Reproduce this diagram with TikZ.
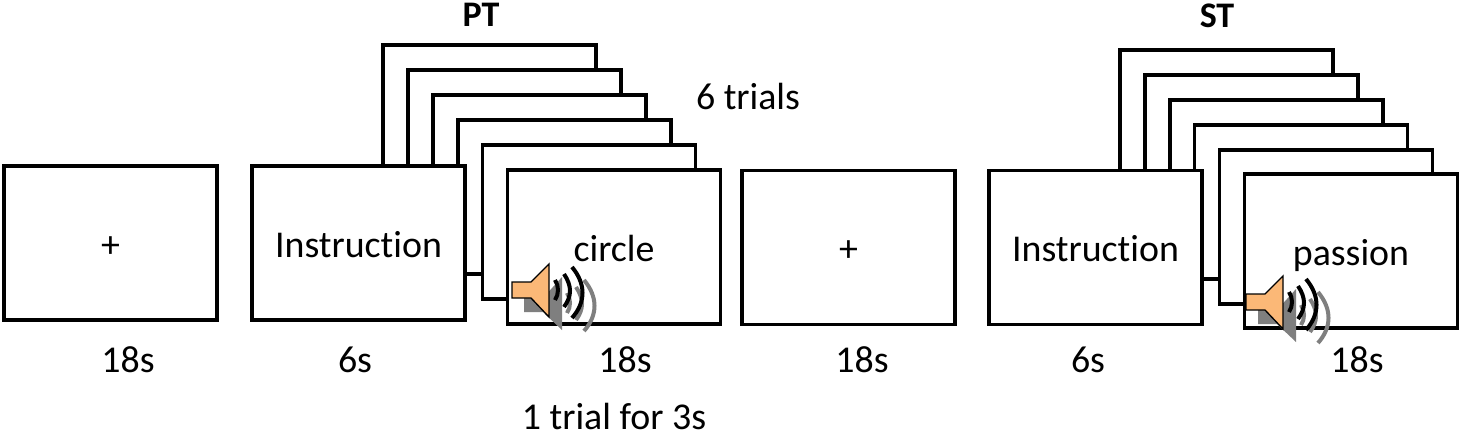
\documentclass[tikz,border=0pt]{standalone}
\usepackage{fontspec}
\setmainfont[Ligatures=NoCommon]{Carlito}
\usepackage{xcolor}
\definecolor{hornfill}{HTML}{FBB877}
\definecolor{hornshade}{HTML}{7F7F7F}
\tikzset{
    screen/.style={draw, fill=white, line width=2.8pt, minimum width=159.6pt, minimum height=115.5pt, inner sep=0pt, outer sep=0pt, text height=21pt, text depth=0pt, font=\fontsize{28.4}{34}\selectfont},
    lbl/.style={inner sep=0pt, font=\fontsize{28.4}{34}\selectfont},
    ttl/.style={inner sep=0pt, font=\fontsize{27}{32}\selectfont\bfseries},
    horn/.pic={
        % shadow first, then the horn and its waves
        \fill [hornshade] (12,16) -- (31,16) -- (50,-5) -- (50,48) -- (31,30) -- (12,30) -- cycle ;
        \foreach \c/\dx/\dy in {hornshade/12/13,black/0/0}{
            \begin{scope}[shift={(\dx,\dy)}]
                \draw [\c, line width=3pt] (43,-2) .. controls (47,4) and (47,12) .. (43,18) ;
                \draw [\c, line width=3pt] (52,-8) .. controls (60,4) and (60,14) .. (52,25) ;
                \draw [\c, line width=3pt] (60,-15) .. controls (74,2) and (74,20) .. (60,36) ;
            \end{scope}
        }
        \draw [fill=hornfill, line width=1pt] (0,0) -- (19,0) -- (37,-18) -- (37,35) -- (19,16) -- (0,16) -- cycle ;
    }
}
\begin{document}
\begin{tikzpicture}[x=0.75pt,y=0.75pt,yscale=-1,xscale=1]
    \useasboundingbox (0,0) rectangle (1462,433);
    % first block
    \node [screen] (fixa) at (110.5,243) {+};
    \foreach \x/\y in {489.5/122,514.5/147,539.5/172,564.5/197,589/222}{
        \node [screen] at (\x,\y) {};
    }
    \node [screen] (insta) at (358.5,243) {Instruction};
    \node [screen] (stima) at (614,247) {circle};
    \pic [transform shape] at (512,282) {horn};
    % second block
    \node [screen] (fixb) at (848.5,247.5) {+};
    \foreach \x/\y in {1226.5/127,1251.5/152,1276.5/177,1301/202,1326/227}{
        \node [screen] at (\x,\y) {};
    }
    \node [screen] (instb) at (1095.5,247.5) {Instruction};
    \node [screen] (stimb) at (1351,251) {passion};
    \pic [transform shape] at (1246,294) {horn};
    % labels
    \node [ttl] (pt) at (481,15) {PT};
    \node [ttl] (st) at (1217,16) {ST};
    \node [lbl] (trials) at (748,96) {6 trials};
    \node [lbl] (ta) at (128,360) {18s};
    \node [lbl] (tb) at (355,360) {6s};
    \node [lbl] (tc) at (625,360) {18s};
    \node [lbl] (td) at (862,360) {18s};
    \node [lbl] (te) at (1088,360) {6s};
    \node [lbl] (tf) at (1357,360) {18s};
    \node [lbl] (one) at (614,416) {1 trial for 3s};
\end{tikzpicture}
\end{document}
